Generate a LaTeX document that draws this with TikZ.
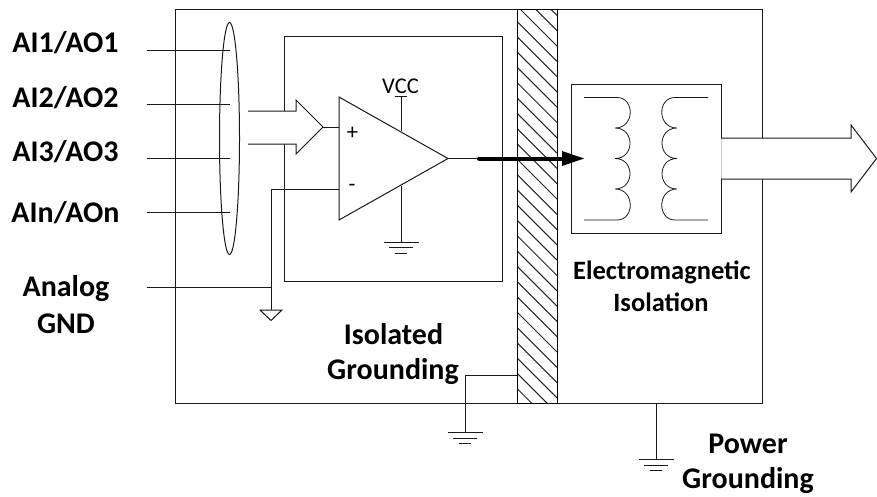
\documentclass[tikz,border=0pt]{standalone}
\usepackage{fontspec}
\setmainfont{Carlito}
\usetikzlibrary{arrows.meta,shapes.geometric}
\tikzset{
  wire/.style={draw=black!90,line width=1pt},
  lab/.style={font=\fontsize{30}{34}\selectfont\bfseries,inner sep=0pt,anchor=base},
  labs/.style={font=\fontsize{26.5}{30}\selectfont\bfseries,inner sep=0pt,anchor=base},
  small/.style={font=\fontsize{22.5}{26}\selectfont,inner sep=0pt},
  hatchline/.style={draw=black!85,line width=1pt}
}
\newcommand{\gnd}[1]{%
  \draw[wire] ([xshift=-17.5pt]#1) -- ([xshift=17.5pt]#1);
  \draw[wire] ([xshift=-12pt,yshift=-5.7pt]#1) -- ([xshift=12pt,yshift=-5.7pt]#1);
  \draw[wire] ([xshift=-6pt,yshift=-11.3pt]#1) -- ([xshift=6pt,yshift=-11.3pt]#1);
}
\begin{document}
\begin{tikzpicture}[x=1pt,y=-1pt]
\useasboundingbox (0,0) rectangle (877,496);
% frames
\coordinate (outerNW) at (175,9);
\coordinate (outerSE) at (762,403);
\coordinate (innerNW) at (284,36.5);
\coordinate (innerSE) at (502.6,281);
\draw[wire] (outerNW) rectangle (outerSE);
\draw[wire] (innerNW) rectangle (innerSE);
% hatched barrier
\begin{scope}
  \clip (517,9) rectangle (557,403);
  \fill[white] (517,9) rectangle (557,403);
  \foreach \k in {-3,...,27}
    \draw[hatchline] (517,{\k*15.3+6}) -- (557,{\k*15.3+46});
\end{scope}
\draw[line width=1pt,black] (517,9) rectangle (557,403);
% input wires and bundle
\foreach \n/\y in {a/50,b/104,c/158.5,d/212.5}{
  \coordinate (in\n) at (147,\y);
  \coordinate (end\n) at (230,\y);
  \draw[wire] (in\n) -- (end\n);
}
\node[draw=black!90,line width=1pt,ellipse,minimum width=20pt,minimum height=232pt,inner sep=0pt] (bundle) at (229.5,138.5) {};
% input block arrow
\fill[white] (248,111) -- (296,111) -- (296,100) -- (323,127) -- (296,154) -- (296,144) -- (248,144) -- cycle;
\draw[wire,line join=miter] (248,111) -- (296,111) -- (296,100) -- (323,127) coordinate (ptip) -- (296,154) -- (296,144) -- (248,144);
% op amp
\coordinate (opA) at (339,97);
\coordinate (opB) at (339,220);
\coordinate (opOut) at (448,158.5);
\draw[wire,line join=miter] (opA) -- (opOut) -- (opB) -- cycle;
\coordinate (plusPin) at (339,127);
\coordinate (minusPin) at (339,189.5);
\draw[wire] (ptip) -- (plusPin);
\coordinate (agndJ) at (271,189.5);
\coordinate (agndT) at (271,310);
\coordinate (agndIn) at (147,287.5);
\coordinate (agndM) at (271,287.5);
\draw[wire] (minusPin) -- (agndJ) -- (agndT);
\draw[wire] (agndIn) -- (agndM);
\draw[wire,line join=miter] (260,310) -- (282,310) -- (271,320.5) -- cycle;
\node[small] (plus) at (352.5,133) {+};
\node[small] (minus) at (352,188) {-};
% supply
\coordinate (vccT) at (401,96);
\coordinate (vccB) at (401,131);
\draw[wire] (vccT) -- (vccB);
\draw[wire] (395,96) -- (407,96);
\node[small,anchor=base] (vcc) at (400.5,93) {VCC};
\coordinate (oaGndT) at (401,186);
\coordinate (oaGnd) at (401,242);
\draw[wire] (oaGndT) -- (oaGnd);
\gnd{oaGnd}
% transformer box
\coordinate (xfNW) at (571,84);
\coordinate (xfSE) at (721,233);
\draw[wire] (xfNW) rectangle (xfSE);
% coils
\draw[draw=black!90,line width=0.8pt] (584,97.5) -- (617,97.5)
  .. controls (635,97.5) and (635,128) .. (615,128)
  .. controls (635,128) and (635,158.5) .. (615,158.5)
  .. controls (635,158.5) and (635,189) .. (615,189)
  .. controls (635,189) and (635,220) .. (617,220) -- (584,220);
\draw[draw=black!90,line width=0.8pt] (708,97.5) -- (675,97.5)
  .. controls (657,97.5) and (657,128) .. (677,128)
  .. controls (657,128) and (657,158.5) .. (677,158.5)
  .. controls (657,158.5) and (657,189) .. (677,189)
  .. controls (657,189) and (657,220) .. (675,220) -- (708,220);
% output block arrow
\fill[white] (721,138) -- (851,138) -- (851,125) -- (877,158.5) -- (851,192) -- (851,179) -- (721,179) -- cycle;
\draw[black!20,line width=0.9pt] (721,138) -- (721,179);
\draw[wire,line join=miter] (721,138) -- (851,138) -- (851,125) -- (876.5,158.5) -- (851,192) -- (851,179) -- (721,179);
% signal arrow
\coordinate (sigS) at (479,158.5);
\coordinate (sigE) at (584,158.5);
\draw[wire] (opOut) -- (sigS);
\draw[black,line width=4pt,line cap=round] (sigS) -- (563,158.5);
\fill[black] (562,151) -- (sigE) -- (562,166) -- cycle;
% grounds
\coordinate (isoA) at (517,375.7);
\coordinate (isoB) at (465,375.7);
\coordinate (isoG) at (465,432.5);
\draw[wire] (isoA) -- (isoB) -- (isoG);
\gnd{isoG}
\coordinate (pwrT) at (656,403);
\coordinate (pwrG) at (656,459.5);
\draw[wire] (pwrT) -- (pwrG);
\gnd{pwrG}
% labels
\node[lab] (l1) at (65.5,52) {AI1/AO1};
\node[lab] (l2) at (65.5,107) {AI2/AO2};
\node[lab] (l3) at (65.5,161) {AI3/AO3};
\node[lab] (l4) at (65.5,222) {AIn/AOn};
\node[lab] (l5a) at (66,296) {Analog};
\node[lab] (l5b) at (66,333) {GND};
\node[lab] (l6a) at (393.5,344) {Isolated};
\node[lab] (l6b) at (393,379) {Grounding};
\node[labs] (l7a) at (662,279) {Electromagnetic};
\node[labs] (l7b) at (661,311) {Isolation};
\node[lab] (l8a) at (748,453) {Power};
\node[lab] (l8b) at (748,488) {Grounding};
\end{tikzpicture}
\end{document}
